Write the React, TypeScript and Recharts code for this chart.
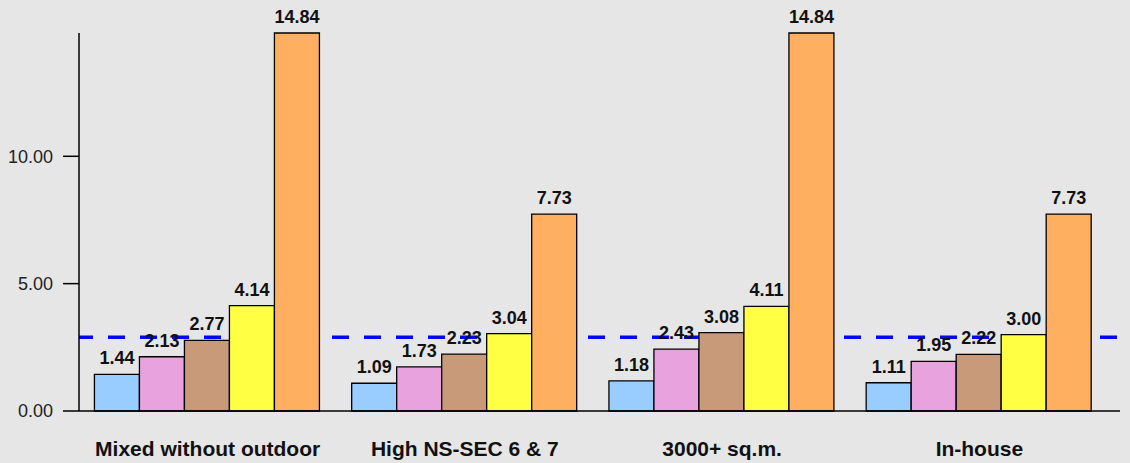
import { BarChart, Bar, XAxis, YAxis, ReferenceLine, LabelList } from "recharts";

const categories = ["Mixed without outdoor", "High NS-SEC 6 & 7", "3000+ sq.m.", "In-house"];
const seriesA = [1.44, 1.09, 1.18, 1.11];
const seriesB = [2.13, 1.73, 2.43, 1.95];
const seriesC = [2.77, 2.23, 3.08, 2.22];
const seriesD = [4.14, 3.04, 4.11, 3.0];
const seriesE = [14.84, 7.73, 14.84, 7.73];
const yTicks = [0, 5, 10];
const refValue = 2.9;

const colors = ["#99ccff", "#e8a3de", "#c89a7a", "#ffff44", "#ffaf5f"];
const keys = ["a", "b", "c", "d", "e"];
const font = "'Liberation Sans', Arial, Helvetica, sans-serif";

const data = categories.map((name, i) => ({
  name,
  a: seriesA[i],
  b: seriesB[i],
  c: seriesC[i],
  d: seriesD[i],
  e: seriesE[i],
}));

const fmt = (v: number) => Number(v).toFixed(2);

export default function App() {
  // keep the dashed line under the bars and their labels
  const refProps: any = { zIndex: 100 };
  return (
    <div style={{ position: "absolute", left: 0, top: 0, width: 1130, height: 463, background: "#e6e6e6" }}>
      <BarChart
        width={1130}
        height={463}
        data={data}
        margin={{ top: 33, right: 10, bottom: 0, left: 0 }}
        barCategoryGap="6%"
        barGap={0}
      >
        <XAxis
          dataKey="name"
          axisLine={{ stroke: "#000", strokeWidth: 1.5 }}
          tickLine={false}
          tickSize={0}
          tickMargin={30}
          height={52}
          padding={{ left: 0, right: 12 }}
          interval={0}
          tick={{ fill: "#111", fontSize: 21, fontWeight: "bold", fontFamily: font }}
        />
        <YAxis
          domain={[0, 14.84]}
          ticks={yTicks}
          width={79}
          tickSize={16}
          tickMargin={10}
          tickFormatter={fmt}
          axisLine={{ stroke: "#000", strokeWidth: 1.5 }}
          tickLine={{ stroke: "#000", strokeWidth: 1.5 }}
          tick={{ fill: "#222", fontSize: 18, fontFamily: font }}
        />
        <ReferenceLine
          y={refValue}
          stroke="#0000ff"
          strokeWidth={3.5}
          strokeDasharray="17 15"
          strokeDashoffset={3}
          {...refProps}
        />
        {keys.map((k, i) => (
          <Bar key={k} dataKey={k} fill={colors[i]} stroke="#000" strokeWidth={1.3} isAnimationActive={false}>
            <LabelList
              dataKey={k}
              position="top"
              offset={10}
              formatter={(v: any) => fmt(v)}
              style={{ fill: "#111", fontSize: 18, fontWeight: "bold", fontFamily: font }}
            />
          </Bar>
        ))}
      </BarChart>
    </div>
  );
}
